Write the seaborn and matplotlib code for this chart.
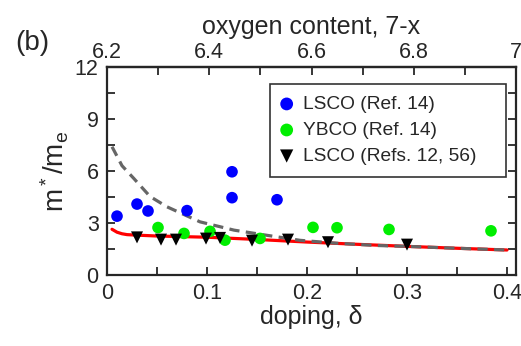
import numpy as np
import pandas as pd
import matplotlib
matplotlib.use("Agg")
import matplotlib.pyplot as plt
import seaborn as sns
from matplotlib.ticker import MultipleLocator, FixedLocator, FixedFormatter

# ---- data ----
lsco14_x = [0.010, 0.030, 0.041, 0.080, 0.125, 0.125, 0.170]
lsco14_y = [3.38, 4.08, 3.68, 3.70, 5.95, 4.45, 4.33]

ybco14_x = [0.051, 0.077, 0.103, 0.118, 0.153, 0.206, 0.230, 0.282, 0.384]
ybco14_y = [2.72, 2.38, 2.50, 1.99, 2.09, 2.73, 2.71, 2.61, 2.53]

lsco1256_x = [0.030, 0.054, 0.069, 0.099, 0.113, 0.145, 0.181, 0.221, 0.300]
lsco1256_y = [2.15, 2.02, 2.02, 2.08, 2.12, 1.96, 2.02, 1.87, 1.73]

red_x = [0.005, 0.010, 0.015, 0.020, 0.030, 0.050, 0.100, 0.150, 0.200, 0.250, 0.300, 0.350, 0.400]
red_y = [2.62, 2.45, 2.36, 2.31, 2.28, 2.23, 2.16, 2.03, 1.88, 1.75, 1.63, 1.52, 1.42]

gray_x = [0.005, 0.015, 0.027, 0.043, 0.060, 0.093, 0.127, 0.160, 0.193, 0.230, 0.270, 0.300, 0.350, 0.400]
gray_y = [7.40, 6.30, 5.55, 4.52, 3.92, 3.05, 2.57, 2.27, 1.98, 1.81, 1.68, 1.63, 1.52, 1.42]

legend_labels = ["LSCO (Ref. 14)", "YBCO (Ref. 14)", "LSCO (Refs. 12, 56)"]
x_ticks = [0, 0.1, 0.2, 0.3, 0.4]
x_ticklabels = ["0", "0.1", "0.2", "0.3", "0.4"]
y_ticks = [0, 3, 6, 9, 12]
top_ticks = [6.2, 6.4, 6.6, 6.8, 7.0]
top_ticklabels = ["6.2", "6.4", "6.6", "6.8", "7"]

# ---- style ----
sns.set_style("ticks")
plt.rcParams["font.family"] = ["Liberation Sans", "DejaVu Sans"]
plt.rcParams["mathtext.fontset"] = "custom"
plt.rcParams["mathtext.rm"] = "Liberation Sans"
plt.rcParams["mathtext.it"] = "Liberation Sans"

XMAX = 0.409
fig = plt.figure(figsize=(5.21, 3.46), dpi=100)
ax = fig.add_axes([0.2054, 0.2066, 0.9904 - 0.2054, 0.8055 - 0.2066])

red_df = pd.DataFrame({"x": red_x, "y": red_y})
gray_df = pd.DataFrame({"x": gray_x, "y": gray_y})
sns.lineplot(data=red_df, x="x", y="y", color="#ff0000", lw=2.3, ax=ax, zorder=2)
sns.lineplot(data=gray_df, x="x", y="y", color="#666666", lw=2.3, ax=ax, zorder=3,
             linestyle=(0, (3.2, 2.0)))

d1 = pd.DataFrame({"x": lsco14_x, "y": lsco14_y})
d2 = pd.DataFrame({"x": ybco14_x, "y": ybco14_y})
d3 = pd.DataFrame({"x": lsco1256_x, "y": lsco1256_y})
sns.scatterplot(data=d1, x="x", y="y", color="#0000ff", marker="o", s=70,
                edgecolor="none", ax=ax, zorder=4, label=legend_labels[0])
sns.scatterplot(data=d2, x="x", y="y", color="#00ee00", marker="o", s=70,
                edgecolor="none", ax=ax, zorder=4, label=legend_labels[1])
sns.scatterplot(data=d3, x="x", y="y", color="black", marker="v", s=75,
                edgecolor="none", ax=ax, zorder=5, label=legend_labels[2])

ax.set_xlim(0, XMAX)
ax.set_ylim(0, 12)
ax.set_xticks(x_ticks)
ax.set_xticklabels(x_ticklabels)
ax.xaxis.set_minor_locator(MultipleLocator(0.05))
ax.set_yticks(y_ticks)
ax.yaxis.set_minor_locator(MultipleLocator(1.5))
ax.tick_params(which="both", direction="in", length=6, width=1.3,
               top=False, right=True, labelsize=15.5, pad=6)
for sp in ax.spines.values():
    sp.set_visible(True)
    sp.set_linewidth(1.6)

ax.set_xlabel("doping, δ", fontsize=18, labelpad=1)
ax.set_ylabel(r"m$^*$/m$_\mathrm{e}$", fontsize=20, labelpad=3)

top = ax.secondary_xaxis("top", functions=(lambda d: 6.2 + d * 0.8 / XMAX,
                                           lambda o: (o - 6.2) * XMAX / 0.8))
top.xaxis.set_major_locator(FixedLocator(top_ticks))
top.xaxis.set_major_formatter(FixedFormatter(top_ticklabels))
top.xaxis.set_minor_locator(MultipleLocator(0.1))
top.tick_params(which="both", direction="in", length=6, width=1.3,
                labelsize=15.5, pad=3)
top.spines["top"].set_linewidth(1.6)
top.set_xlabel("oxygen content, 7-x", fontsize=18, labelpad=6)

leg = ax.legend(loc="upper left", bbox_to_anchor=(0.3985, 0.821, 0.577, 0.1),
                mode="expand", fontsize=13.8,
                frameon=True, fancybox=False, edgecolor="black",
                handletextpad=0.62, borderpad=0.62, labelspacing=0.45,
                handlelength=0.5, borderaxespad=0, markerscale=1.1)
leg.get_frame().set_linewidth(1.2)

fig.text(0.062, 0.876, "(b)", fontsize=20, ha="center", va="center")

fig.savefig("out.png", dpi=100)
